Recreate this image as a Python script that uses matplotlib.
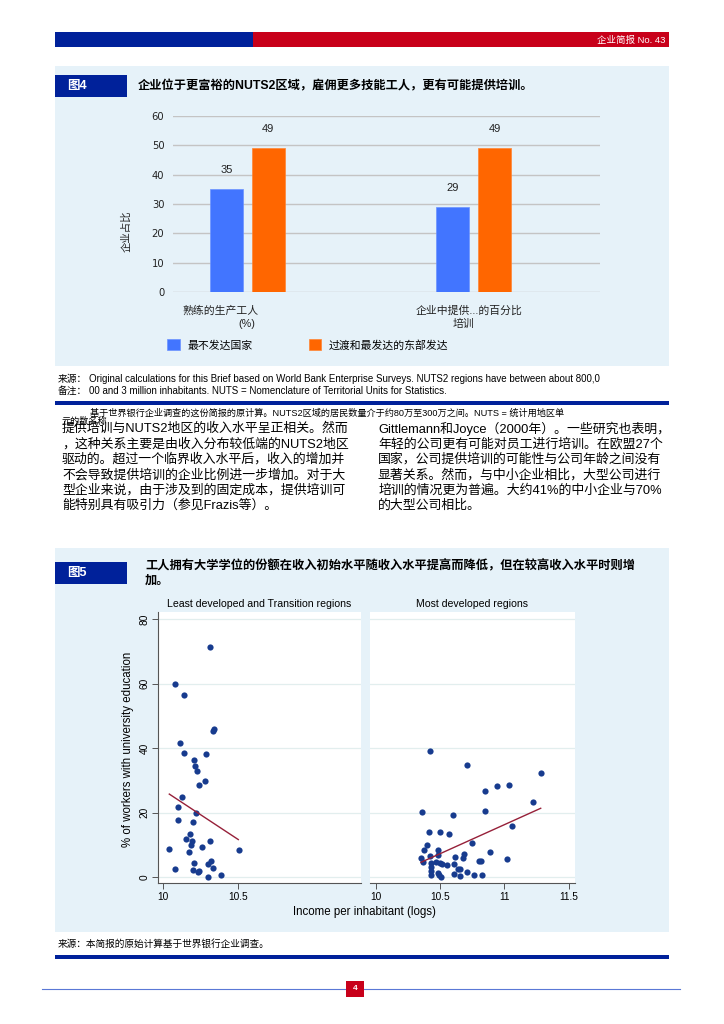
import matplotlib
matplotlib.use('Agg')
import matplotlib.pyplot as plt
from matplotlib.patches import Rectangle
from matplotlib.transforms import blended_transform_factory

# ---------------- data ----------------
cat_line1 = ['熟练的生产工人', '企业中提供...的百分比']
cat_line2 = ['(%)', '培训']
series_names = ['最不发达国家', '过渡和最发达的东部发达']
least_vals = [35, 29]
most_vals = [49, 49]
bar_yticks = [0, 10, 20, 30, 40, 50, 60]

left_x = [10.311, 10.076, 10.138, 10.329, 10.338, 10.111, 10.138, 10.282, 10.202, 10.211,
          10.224, 10.278, 10.238, 10.124, 10.100, 10.218, 10.100, 10.198, 10.176, 10.153,
          10.191, 10.311, 10.187, 10.256, 10.040, 10.504, 10.171, 10.204, 10.320, 10.300,
          10.331, 10.080, 10.200, 10.240, 10.233, 10.384, 10.296]
left_y = [71.3, 60.0, 56.4, 45.3, 45.9, 41.6, 38.4, 38.2, 36.5, 34.5,
          33.0, 29.9, 28.5, 25.0, 21.7, 19.8, 17.8, 17.1, 13.5, 11.9,
          11.4, 11.4, 10.1, 9.3, 8.8, 8.5, 7.8, 4.4, 5.1, 4.1,
          3.0, 2.6, 2.4, 2.0, 1.7, 0.7, 0.0]
left_fit_x = [10.04, 10.50]
left_fit_y = [25.8, 11.7]

right_x = [10.422, 10.712, 11.282, 10.946, 11.034, 10.850, 11.220, 10.360, 10.847, 10.601,
           11.062, 10.417, 10.500, 10.573, 10.749, 10.396, 10.373, 10.484, 10.487, 10.891,
           10.684, 10.422, 10.350, 10.617, 10.676, 11.018, 10.800, 10.816, 10.370, 10.427,
           10.469, 10.497, 10.513, 10.554, 10.606, 10.433, 10.642, 10.655, 10.433, 10.482,
           10.495, 10.433, 10.508, 10.609, 10.653, 10.707, 10.762, 10.826]
right_y = [39.1, 34.9, 32.2, 28.4, 28.7, 26.7, 23.2, 20.4, 20.7, 19.3,
           15.9, 13.9, 13.9, 13.4, 10.6, 10.1, 8.4, 8.4, 7.0, 7.8,
           7.3, 6.7, 6.1, 6.2, 5.9, 5.7, 5.2, 5.0, 4.7, 4.5,
           4.7, 4.3, 4.1, 3.9, 4.2, 3.1, 2.6, 2.6, 2.1, 1.2,
           0.8, 0.7, 0.1, 1.0, 0.5, 1.6, 0.6, 0.7]
right_fit_x = [10.352, 11.282]
right_fit_y = [4.65, 21.4]

scatter_yticks = [0, 20, 40, 60, 80]
left_xticks = [10, 10.5]
right_xticks = [10, 10.5, 11, 11.5]

# ---------------- style ----------------
CJK = ['Noto Sans CJK SC', 'DejaVu Sans']
MIX = ['Liberation Sans', 'Noto Sans CJK SC', 'DejaVu Sans']
NAVY = '#00219A'
RED = '#C8001A'
PANEL = '#E6F2F9'
BLUE = '#4275FF'
ORANGE = '#FF6600'
DOT = '#173B8E'
FIT = '#962039'

W, H = 724, 1024
fig = plt.figure(figsize=(W / 100, H / 100), dpi=100)
bg = fig.add_axes([0, 0, 1, 1])
bg.set_xlim(0, W)
bg.set_ylim(H, 0)
bg.axis('off')


def rect(x0, y0, x1, y1, color, z=0):
    bg.add_patch(Rectangle((x0, y0), x1 - x0, y1 - y0, facecolor=color,
                           edgecolor='none', zorder=z))


def fax(x0, y0, x1, y1):
    return fig.add_axes([x0 / W, 1 - y1 / H, (x1 - x0) / W, (y1 - y0) / H])


# header
rect(55, 32, 253, 47, NAVY)
rect(253, 32, 669, 47, RED)
bg.text(665, 40, '企业简报 No. 43', color='white', fontsize=6.8, ha='right',
        va='center', family=MIX)

# ---------------- Figure 4 ----------------
rect(55, 66, 669, 366, PANEL)
rect(55, 75, 127, 97, NAVY)
bg.text(67, 86.5, '图4', color='white', fontsize=9, fontweight='bold',
        va='center', family=MIX)
bg.text(138, 86.5, '企业位于更富裕的NUTS2区域，雇佣更多技能工人，更有可能提供培训。',
        fontsize=8.8, fontweight='bold', va='center', family=MIX)
bg.text(126, 231, '企业占比', rotation=90, fontsize=7.5, va='center', ha='center',
        family=CJK, color='#222222')

ax = fax(172.7, 115.7, 600, 292.3)
ax.set_facecolor('none')
groups = [0, 1]
bw = 0.145
off = 0.093
b1 = ax.bar([g - off for g in groups], least_vals, bw, color=BLUE, label=series_names[0],
            edgecolor='#6b93ff', linewidth=0.5, zorder=3)
b2 = ax.bar([g + off for g in groups], most_vals, bw, color=ORANGE, label=series_names[1],
            edgecolor='#ff8533', linewidth=0.5, zorder=3)
for cont in (b1, b2):
    for rr in cont:
        ax.annotate(f'{rr.get_height():g}', (rr.get_x() + rr.get_width() / 2, rr.get_height()),
                    xytext=(0, 10), textcoords='offset points', ha='center', va='bottom',
                    fontsize=8, family=MIX, color='#222222')
ax.set_xlim(-0.33, 1.56)
ax.set_ylim(0, 60)
ax.set_yticks(bar_yticks)
ax.yaxis.grid(True, color='#c4c4c4', linewidth=1.0, zorder=0)
ax.set_axisbelow(True)
ax.set_xticks([])
ax.tick_params(axis='y', length=0, labelsize=7.2, colors='#222222', pad=6)
for s in ax.spines.values():
    s.set_visible(False)
trans = blended_transform_factory(ax.transData, ax.transAxes)
l1_off = [-0.12, -0.02]
l2_off = [0.0, -0.045]
for g, t1, t2, o1, o2 in zip(groups, cat_line1, cat_line2, l1_off, l2_off):
    ax.text(g + o1, -0.105, t1, transform=trans, ha='center', va='center', fontsize=7.8,
            family=MIX, color='#222222')
    ax.text(g + o2, -0.18, t2, transform=trans, ha='center', va='center', fontsize=7.8,
            family=MIX, color='#222222')
ax.legend(handles=[b1, b2], loc='center left', bbox_to_anchor=(162 / W, 1 - 345 / H),
          bbox_transform=fig.transFigure, ncol=2, frameon=False, borderpad=0,
          handlelength=1.15, handleheight=1.15, handletextpad=0.7, columnspacing=5.2,
          prop={'family': MIX, 'size': 7.8})

# notes
bg.text(58, 379, '来源：', fontsize=7, style='italic', va='center', family=MIX)
bg.text(89, 379, 'Original calculations for this Brief based on World Bank Enterprise Surveys. '
        'NUTS2 regions have between about 800,0', fontsize=7, va='center', family=MIX)
bg.text(58, 391, '备注：', fontsize=7, style='italic', va='center', family=MIX)
bg.text(89, 391, '00 and 3 million inhabitants. NUTS = Nomenclature of Territorial Units for Statistics.',
        fontsize=7, va='center', family=MIX)
rect(55, 401, 669, 405, NAVY)
bg.text(90, 413, '基于世界银行企业调查的这份简报的原计算。NUTS2区域的居民数量介于约80万至300万之间。NUTS = 统计用地区单',
        fontsize=6.6, va='center', family=MIX)
bg.text(62, 421, '元的数名称', fontsize=6.6, va='center', family=MIX)

left_col = ['提供培训与NUTS2地区的收入水平呈正相关。然而',
            '，这种关系主要是由收入分布较低端的NUTS2地区',
            '驱动的。超过一个临界收入水平后，收入的增加并',
            '不会导致提供培训的企业比例进一步增加。对于大',
            '型企业来说，由于涉及到的固定成本，提供培训可',
            '能特别具有吸引力（参见Frazis等）。']
right_col = ['Gittlemann和Joyce（2000年）。一些研究也表明，',
             '年轻的公司更有可能对员工进行培训。在欧盟27个',
             '国家，公司提供培训的可能性与公司年龄之间没有',
             '显著关系。然而，与中小企业相比，大型公司进行',
             '培训的情况更为普遍。大约41%的中小企业与70%',
             '的大型公司相比。']
for i, (a, b) in enumerate(zip(left_col, right_col)):
    y = 428.5 + 15.5 * i
    bg.text(62, y, a, fontsize=9.3, va='center', family=MIX)
    bg.text(378, y, b, fontsize=9.3, va='center', family=MIX)

# ---------------- Figure 5 ----------------
rect(55, 548, 669, 932, PANEL)
rect(55, 562, 127, 584, NAVY)
bg.text(67, 573, '图5', color='white', fontsize=9, fontweight='bold', va='center', family=MIX)
bg.text(145, 566, '工人拥有大学学位的份额在收入初始水平随收入水平提高而降低，但在较高收入水平时则增',
        fontsize=8.8, fontweight='bold', va='center', family=MIX)
bg.text(145, 581, '加。', fontsize=8.8, fontweight='bold', va='center', family=MIX)
bg.text(259, 604, 'Least developed and Transition regions', fontsize=7.6, ha='center',
        va='center', family=MIX)
bg.text(472, 604, 'Most developed regions', fontsize=7.6, ha='center', va='center', family=MIX)
bg.text(128, 749, '% of workers with university education', rotation=90, fontsize=8.3,
        ha='center', va='center', family=MIX)
bg.text(364, 912, 'Income per inhabitant (logs)', fontsize=8.3, ha='center', va='center',
        family=MIX)

y_lo = -(883.3 - 877.3) / 3.225
y_hi = 80 + (619.3 - 612) / 3.225


def style_scatter(a, xt, xlim, show_y):
    a.set_facecolor('white')
    a.set_xlim(*xlim)
    a.set_ylim(y_lo, y_hi)
    a.set_yticks(scatter_yticks)
    a.set_xticks(xt)
    a.set_xticklabels([f'{v:g}' for v in xt])
    a.yaxis.grid(True, color='#e2eeee', linewidth=0.9)
    a.set_axisbelow(True)
    a.spines['top'].set_visible(False)
    a.spines['right'].set_visible(False)
    a.spines['bottom'].set_color('#555555')
    a.spines['bottom'].set_linewidth(0.8)
    a.tick_params(axis='x', length=4, width=0.7, color='#555555', labelsize=7.3, pad=2)
    for lab in a.get_xticklabels():
        lab.set_family(MIX)
    if show_y:
        a.spines['left'].set_color('#555555')
        a.spines['left'].set_linewidth(0.8)
        a.tick_params(axis='y', length=4, width=0.7, color='#555555', labelsize=7.3, pad=2)
        a.set_yticklabels([str(v) for v in scatter_yticks], rotation=90, va='center',
                          family=MIX)
    else:
        a.spines['left'].set_visible(False)
        a.tick_params(axis='y', length=0, labelleft=False)


axl = fax(157.7, 612, 360.7, 883.3)
style_scatter(axl, left_xticks, (10 - 5.6 / 150, 10 + (360.7 - 163.3) / 150), True)
axl.scatter(left_x, left_y, s=20, color=DOT, zorder=3, linewidths=0)
axl.plot(left_fit_x, left_fit_y, color=FIT, lw=1.0, zorder=4)

axr = fax(370, 612, 575, 883.3)
style_scatter(axr, right_xticks, (10 - 5.7 / 128.7, 10 + (575 - 375.7) / 128.7), False)
axr.scatter(right_x, right_y, s=20, color=DOT, zorder=3, linewidths=0)
axr.plot(right_fit_x, right_fit_y, color=FIT, lw=1.0, zorder=4)

# footer
bg.text(58, 944, '来源：本简报的原始计算基于世界银行企业调查。', fontsize=6.95, style='italic',
        va='center', family=MIX)
rect(55, 955, 669, 959, NAVY)
bg.plot([42, 680], [989, 989], color='#5a78d6', lw=0.8, zorder=1)
rect(346, 981, 364, 997, RED, z=2)
bg.text(355, 989, '4', color='white', fontsize=6, fontweight='bold', ha='center',
        va='center', family=MIX, zorder=3)

fig.savefig('out.png', dpi=100)
